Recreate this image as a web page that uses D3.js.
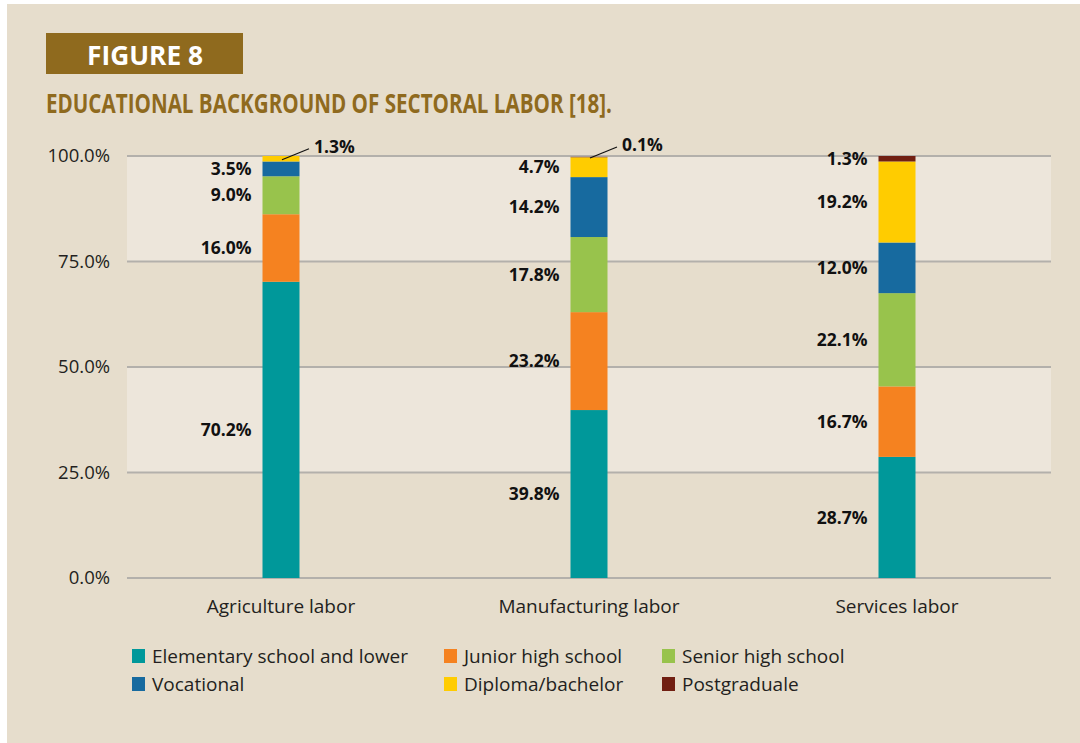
<!DOCTYPE html>
<html lang="en">
  <head>
    <meta charset="UTF-8" />
    <title>Figure 8</title>
    <style>
      body {
        margin: 0;
        background: #fff;
      }
      text {
        font-family: "Open Sans", "Noto Sans", sans-serif;
        fill: #231f20;
      }
      .grid line {
        stroke: #b3b0ab;
        stroke-width: 2px;
      }
      .label {
        font-weight: bold;
        font-size: 17.5px;
        fill: #111;
      }
    </style>
  </head>
  <body>
    <div id="chart"></div>
    <script src="https://cdn.jsdelivr.net/npm/d3@7"></script>
    <script>
      /* global d3 */

      let sectors = ["Agriculture labor", "Manufacturing labor", "Services labor"];
      let levels = [
        "Elementary school and lower",
        "Junior high school",
        "Senior high school",
        "Vocational",
        "Diploma/bachelor",
        "Postgraduale"
      ];
      // percent per level, one value per sector
      let elementary = [70.2, 39.8, 28.7];
      let junior = [16.0, 23.2, 16.7];
      let senior = [9.0, 17.8, 22.1];
      let vocational = [3.5, 14.2, 12.0];
      let diploma = [1.3, 4.7, 19.2];
      let postgrad = [0.0, 0.1, 1.3];
      let yTicks = [0, 25, 50, 75, 100];

      let colors = ["#00989a", "#f58220", "#98c34c", "#176a9f", "#ffcc00", "#711f12"];

      let width = 1080,
        height = 743;

      let svg = d3
        .select("#chart")
        .append("svg")
        .attr("width", width)
        .attr("height", height);

      // panel
      svg.append("rect")
        .attr("x", 7).attr("y", 4)
        .attr("width", width - 7).attr("height", height - 4)
        .attr("fill", "#e6ddcc");

      // header
      svg.append("rect")
        .attr("x", 46).attr("y", 33)
        .attr("width", 197).attr("height", 41)
        .attr("fill", "#8f6a1e");
      svg.append("text")
        .attr("x", 87).attr("y", 65)
        .attr("textLength", 116)
        .attr("lengthAdjust", "spacingAndGlyphs")
        .style("font-weight", "bold")
        .style("font-size", "27px")
        .style("fill", "#fff")
        .text("FIGURE 8");
      svg.append("text")
        .attr("x", 46).attr("y", 113)
        .attr("textLength", 566)
        .attr("lengthAdjust", "spacingAndGlyphs")
        .style("font-weight", "bold")
        .style("font-size", "26.5px")
        .style("fill", "#8f6a1e")
        .text("EDUCATIONAL BACKGROUND OF SECTORAL LABOR [18].");

      let margin = { left: 127, right: 1051, top: 156, bottom: 578 };

      let x = d3.scaleBand()
        .domain(sectors)
        .range([margin.left, margin.right]);

      let y = d3.scaleLinear()
        .domain([0, 100])
        .range([margin.bottom, margin.top]);

      // alternating bands
      svg.selectAll(".band")
        .data([[25, 50], [75, 100]])
        .enter()
        .append("rect")
        .attr("x", margin.left)
        .attr("width", margin.right - margin.left)
        .attr("y", d => y(d[1]))
        .attr("height", d => y(d[0]) - y(d[1]))
        .attr("fill", "#ede6db");

      let grid = svg.append("g").attr("class", "grid");
      grid.selectAll("line")
        .data(yTicks)
        .enter()
        .append("line")
        .attr("x1", margin.left)
        .attr("x2", margin.right)
        .attr("y1", d => y(d))
        .attr("y2", d => y(d));

      svg.append("g")
        .selectAll("text")
        .data(yTicks)
        .enter()
        .append("text")
        .attr("x", 110)
        .attr("y", d => y(d))
        .attr("dy", "0.35em")
        .attr("text-anchor", "end")
        .style("font-size", "18.5px")
        .text(d => d3.format(".1f")(d) + "%");

      svg.append("g")
        .selectAll("text")
        .data(sectors)
        .enter()
        .append("text")
        .attr("x", d => x(d) + x.bandwidth() / 2)
        .attr("y", 613)
        .attr("text-anchor", "middle")
        .style("font-size", "19px")
        .text(d => d);

      let series = [elementary, junior, senior, vocational, diploma, postgrad];
      let table = sectors.map((s, i) => {
        let row = { sector: s };
        levels.forEach((l, j) => (row[l] = series[j][i]));
        return row;
      });

      let stacked = d3.stack().keys(levels)(table);

      let barW = 37;
      let layer = svg.selectAll(".layer")
        .data(stacked)
        .enter()
        .append("g")
        .attr("fill", (d, i) => colors[i]);

      layer.selectAll("rect")
        .data(d => d)
        .enter()
        .append("rect")
        .attr("x", d => x(d.data.sector) + x.bandwidth() / 2 - barW / 2)
        .attr("width", barW)
        .attr("y", d => y(d[1]))
        .attr("height", d => y(d[0]) - y(d[1]));

      // value labels
      let labels = [];
      stacked.forEach((s, j) => {
        s.forEach(d => {
          let v = d[1] - d[0];
          if (v <= 0) return;
          labels.push({ sector: d.data.sector, v: v, mid: (d[0] + d[1]) / 2, top: d[1], key: s.key });
        });
      });

      // the thin top segments that sit at the very top get a leader line
      function hasLeader(d) {
        return (d.sector === "Agriculture labor" && d.key === "Diploma/bachelor") ||
          (d.sector === "Manufacturing labor" && d.key === "Postgraduale");
      }

      labels.forEach(d => {
        let cx = x(d.sector) + x.bandwidth() / 2;
        if (hasLeader(d)) {
          svg.append("line")
            .attr("x1", cx + 1)
            .attr("y1", y(d.mid) + 1)
            .attr("x2", cx + 28)
            .attr("y2", y(d.mid) - 10)
            .attr("stroke", "#111")
            .attr("stroke-width", 1.2);
          svg.append("text")
            .attr("class", "label")
            .attr("x", cx + 33)
            .attr("y", y(d.mid) - 12)
            .attr("dy", "0.35em")
            .text(d3.format(".1f")(d.v) + "%");
        } else {
          svg.append("text")
            .attr("class", "label")
            .attr("x", cx - barW / 2 - 11)
            .attr("y", y(d.mid))
            .attr("dy", "0.35em")
            .attr("text-anchor", "end")
            .text(d3.format(".1f")(d.v) + "%");
        }
      });

      // legend
      let legendPos = [
        [132, 656], [444, 656], [662, 656],
        [132, 684], [444, 684], [662, 684]
      ];
      let legend = svg.selectAll(".legend")
        .data(levels)
        .enter()
        .append("g")
        .attr("transform", (d, i) => "translate(" + legendPos[i][0] + "," + legendPos[i][1] + ")");
      legend.append("rect")
        .attr("x", 0).attr("y", -7)
        .attr("width", 13).attr("height", 14)
        .attr("fill", (d, i) => colors[i]);
      legend.append("text")
        .attr("x", 20)
        .attr("dy", "0.35em")
        .style("font-size", "19px")
        .text(d => d);
    </script>
  </body>
</html>
